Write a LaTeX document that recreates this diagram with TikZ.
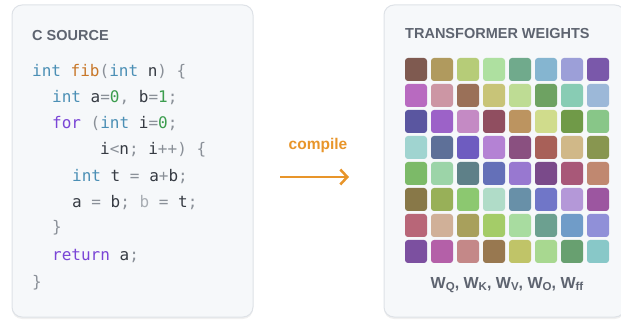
\documentclass[tikz,border=0pt]{standalone}
\usepackage{fontspec}
\setmainfont{Liberation Sans}
\setmonofont{DejaVu Sans Mono}
\usepackage{xcolor}
\usepackage{tikz}
\usetikzlibrary{arrows.meta,positioning,shadows}

\definecolor{panelfill}{HTML}{F6F8FA}
\definecolor{panelline}{HTML}{DEE2E7}
\definecolor{headgray}{HTML}{5E6470}
\definecolor{codetext}{HTML}{363B43}
\definecolor{codetype}{HTML}{4B8FB5}
\definecolor{codefn}{HTML}{C8782A}
\definecolor{codekw}{HTML}{7A45D6}
\definecolor{codenum}{HTML}{3C9D4E}
\definecolor{codepun}{HTML}{8A9098}
\definecolor{codefade}{HTML}{A9AEB4}
\definecolor{compileorange}{HTML}{E8952A}

\newcommand{\cty}[1]{\textcolor{codetype}{#1}}
\newcommand{\cfn}[1]{\textcolor{codefn}{#1}}
\newcommand{\ckw}[1]{\textcolor{codekw}{#1}}
\newcommand{\cnum}[1]{\textcolor{codenum}{#1}}
\newcommand{\cpun}[1]{\textcolor{codepun}{#1}}
\newcommand{\cfade}[1]{\textcolor{codefade}{#1}}
\newcommand{\wsub}[1]{\raisebox{-2.5pt}{\fontsize{11.5}{12}\selectfont #1}}

\tikzset{
  panel/.style={draw=panelline, line width=1pt, fill=panelfill, rounded corners=10pt,
    minimum width=241pt, minimum height=312pt, inner sep=0pt,
    drop shadow={opacity=0.12, shadow xshift=0pt, shadow yshift=-2pt}},
  heading/.style={anchor=west, inner sep=0pt, text=headgray,
    font=\fontsize{14.5}{17}\selectfont\bfseries},
  codeline/.style={anchor=base west, inner sep=0pt, text=codetext,
    font=\fontsize{16}{19}\selectfont\ttfamily},
  cellbox/.style={rounded corners=3pt, minimum width=22pt, minimum height=23pt, inner sep=0pt}
}

\begin{document}
\begin{tikzpicture}[x=1pt, y=-1pt]
			\useasboundingbox (0,0) rectangle (621,320);

			% ---------------- Source (Left) ----------------
			\node[panel] (src) at (132.5,161) {};
			\node[heading] (srctitle) at (32,36) {C SOURCE};

			% Code lines
			\node[codeline] (l1) at (32,77) {\cty{int} \cfn{fib}\cpun{(}\cty{int} n\cpun{)} \cpun{\{}};
			\node[codeline] (l2) at (52,103) {\cty{int} a\cpun{=}\cnum{0}\cpun{,} b\cpun{=}\cnum{1}\cpun{;}};
			\node[codeline] (l3) at (52,129) {\ckw{for} \cpun{(}\cty{int} i\cpun{=}\cnum{0}\cpun{;}};
			\node[codeline] (l4) at (100,155) {i\cpun{<}n\cpun{;} i\cpun{++)} \cpun{\{}};
			\node[codeline] (l5) at (72,182) {\cty{int} t \cpun{=} a\cpun{+}b\cpun{;}};
			\node[codeline] (l6) at (72,208) {a \cpun{=} b\cpun{;} \cfade{b} \cpun{=} t\cpun{;}};
			\node[codeline] (l7) at (52,233) {\cpun{\}}};
			\node[codeline] (l8) at (52,261) {\ckw{return} a\cpun{;}};
			\node[codeline] (l9) at (32,288) {\cpun{\}}};

			% ---------------- Compile (Middle) ----------------
			\coordinate (arrS) at (280,177);
			\coordinate (arrE) at (349,177);
			\node[text=compileorange, font=\fontsize{15.5}{18}\selectfont\bfseries] (comp) at (318,145) {compile};
			\draw[compileorange, line width=2.5pt, -{Straight Barb[length=7pt,width=15pt,line width=2.5pt]}] (arrS) -- (arrE);

			% ---------------- Weights (Right) ----------------
			\node[panel] (wts) at (504.5,161) {};
			\node[heading] (wtstitle) at (405,34) {TRANSFORMER WEIGHTS};

			% Weight cells
			\foreach \hex [count=\k from 0] in {
				7F5A50,B09A5E,B6CC78,AEE0A0,70AA8C,85B5D0,9C9FD8,7A58AA,
				B86AC0,CC96A4,9A7058,C8C478,BEDC94,6EA262,88CCB4,9CB8D8,
				5A56A0,9C62C8,C48AC4,904E60,BC9460,D0DC8C,709A48,88C688,
				A0D4D0,5E7098,6E5CC0,B482D4,8A5080,A86058,D0B888,889650,
				7CBA68,9CD4A8,5E8088,6470B8,9878D0,7A4A8A,A85878,C08870,
				887848,98B058,8CC870,B0DCC8,6890A8,7076C8,B498D8,9C56A0,
				B86678,D0B098,A8A05C,A4CC68,A8DCA0,6CA090,709CC8,9090D8,
				7C50A0,B460A8,C48888,987850,C0C468,A8D890,68A070,88C8C8} {
				\pgfmathtruncatemacro\col{mod(\k,8)}
				\pgfmathtruncatemacro\rw{div(\k,8)}
				\definecolor{cellcol}{HTML}{\hex}
				\node[cellbox, fill=cellcol] (c\rw\col) at ({416+26*\col},{69.5+26*\rw}) {};
			}

			% Caption
			\node[text=headgray, font=\fontsize{16}{19}\selectfont\bfseries] (wlabel) at (507,285)
				{W\wsub{Q}, W\wsub{K}, W\wsub{V}, W\wsub{O}, W\wsub{ff}};
		\end{tikzpicture}
\end{document}
